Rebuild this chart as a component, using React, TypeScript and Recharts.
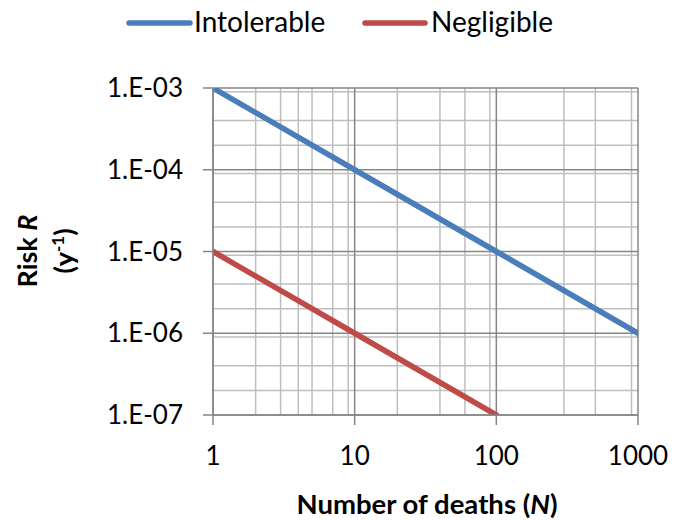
import React from "react";
import { LineChart, Line, XAxis, YAxis, CartesianGrid } from "recharts";

// N (deaths) vs risk R per year
const deathsIntolerable = [1, 10, 100, 1000];
const riskIntolerable = [1e-3, 1e-4, 1e-5, 1e-6];
const deathsNegligible = [1, 10, 100];
const riskNegligible = [1e-5, 1e-6, 1e-7];

const xMajor = [1, 10, 100, 1000];
const yMajor = [1e-7, 1e-6, 1e-5, 1e-4, 1e-3];
const multiples = [2, 3, 4, 5, 6, 7, 8, 9];
const xMinor = xMajor.slice(0, -1).flatMap((d) => multiples.map((m) => m * d));
const yMinor = yMajor.slice(0, -1).flatMap((d) => multiples.map((m) => m * d));

const intolerable = deathsIntolerable.map((n, i) => ({ n, r: riskIntolerable[i] }));
const negligible = deathsNegligible.map((n, i) => ({ n, r: riskNegligible[i] }));

const BLUE = "#4a7ebb";
const RED = "#be4b48";
const MAJOR = "#868686";
const MINOR = "#bebebe";
const FONT = "Lato, 'Open Sans', sans-serif";

function formatRisk(v: number) {
  const e = Math.round(-Math.log10(v));
  return `1.E-${String(e).padStart(2, "0")}`;
}

function YTitle() {
  return (
    <g fontFamily={FONT} fontWeight={700} fontSize={27} fill="#000">
      <text x={37} y={251} transform="rotate(-90, 37, 251)" textAnchor="middle">
        Risk <tspan fontStyle="italic">R</tspan>
      </text>
      <text x={74} y={251} transform="rotate(-90, 74, 251)" textAnchor="middle">
        (y<tspan dy={-10} fontSize={17}>-1</tspan>
        <tspan dy={10}>)</tspan>
      </text>
    </g>
  );
}

function XTitle() {
  return (
    <text x={427} y={514} textAnchor="middle" fontFamily={FONT} fontWeight={700} fontSize={27.5} fill="#000">
      Number of deaths (<tspan fontStyle="italic">N</tspan>)
    </text>
  );
}

function Legend() {
  const items = [
    { label: "Intolerable", color: BLUE, x1: 129, x2: 190, tx: 194 },
    { label: "Negligible", color: RED, x1: 365, x2: 425, tx: 431 },
  ];
  return (
    <svg width={686} height={50} style={{ position: "absolute", left: 0, top: 0 }}>
      {items.map((it) => (
        <g key={it.label}>
          <line x1={it.x1} y1={23} x2={it.x2} y2={23} stroke={it.color} strokeWidth={5.5} strokeLinecap="round" />
          <text x={it.tx} y={32} fontFamily={FONT} fontSize={28} fill="#000">
            {it.label}
          </text>
        </g>
      ))}
    </svg>
  );
}

export default function App() {
  return (
    <div style={{ position: "absolute", left: 0, top: 0, width: 686, height: 520, background: "#fff" }}>
      <LineChart width={686} height={520} margin={{ top: 88, right: 48, bottom: 0, left: 0 }}>
        <CartesianGrid
          horizontalValues={yMinor}
          verticalValues={xMinor}
          stroke={MINOR}
          strokeWidth={1.5}
        />
        <CartesianGrid
          horizontalValues={yMajor}
          verticalValues={xMajor}
          stroke={MAJOR}
          strokeWidth={1.5}
        />
        <XAxis
          type="number"
          dataKey="n"
          scale="log"
          domain={[1, 1000]}
          ticks={xMajor}
          allowDataOverflow
          height={105}
          tickSize={10}
          tickMargin={22}
          axisLine={{ stroke: MAJOR, strokeWidth: 1.5 }}
          tickLine={{ stroke: MAJOR, strokeWidth: 1.5 }}
          tick={{ fontSize: 26, fill: "#000", fontFamily: FONT }}
          label={{ content: () => <XTitle /> }}
        />
        <YAxis
          type="number"
          dataKey="r"
          scale="log"
          domain={[1e-7, 1e-3]}
          ticks={yMajor}
          allowDataOverflow
          width={213}
          tickSize={10}
          tickMargin={20}
          tickFormatter={formatRisk}
          axisLine={{ stroke: MAJOR, strokeWidth: 1.5 }}
          tickLine={{ stroke: MAJOR, strokeWidth: 1.5 }}
          tick={{ fontSize: 26, fill: "#000", fontFamily: FONT }}
          label={{ content: () => <YTitle /> }}
        />
        <Line
          data={intolerable}
          dataKey="r"
          stroke={BLUE}
          strokeWidth={5.5}
          strokeLinecap="round"
          dot={false}
          isAnimationActive={false}
        />
        <Line
          data={negligible}
          dataKey="r"
          stroke={RED}
          strokeWidth={5.5}
          strokeLinecap="round"
          dot={false}
          isAnimationActive={false}
        />
      </LineChart>
      <Legend />
    </div>
  );
}
